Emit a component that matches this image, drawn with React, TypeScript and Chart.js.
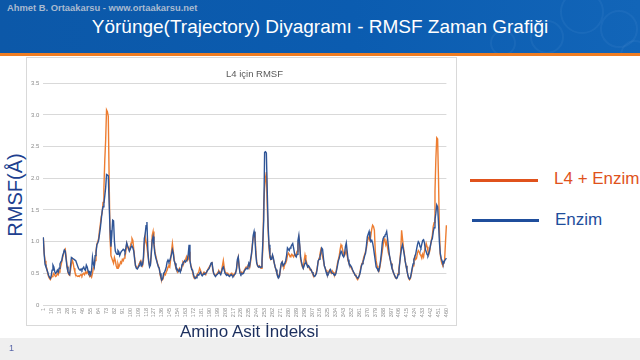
import React, { useEffect, useRef } from "react";
import { Chart, registerables } from "chart.js";

Chart.register(...registerables);

// Residue indices (amino acid index) 1..460
const residues: string[] = Array.from({ length: 460 }, (_, i) => String(i + 1));

// Tick labels shown on the x axis
const xTickLabels = [
  1, 10, 19, 28, 37, 46, 55, 64, 73, 82, 91, 100, 109, 118, 127, 136, 145, 154, 163, 172,
  181, 190, 199, 208, 217, 226, 235, 244, 253, 262, 271, 280, 289, 298, 307, 316, 325, 334,
  343, 352, 361, 370, 379, 388, 397, 406, 415, 424, 433, 442, 451, 460,
];

const yTicks = [0, 0.5, 1, 1.5, 2, 2.5, 3, 3.5];

// RMSF "L4 + Enzim"
const rmsfL4Enzim = [
  1.06, 0.82, 0.70, 0.62, 0.58, 0.50, 0.45, 0.42, 0.40, 0.43,
  0.45, 0.47, 0.50, 0.47, 0.45, 0.46, 0.50, 0.48, 0.52, 0.55,
  0.62, 0.68, 0.75, 0.80, 0.86, 0.88, 0.76, 0.62, 0.52, 0.48,
  0.47, 0.55, 0.64, 0.71, 0.66, 0.58, 0.52, 0.48, 0.46, 0.45,
  0.46, 0.45, 0.47, 0.48, 0.46, 0.49, 0.50, 0.48, 0.52, 0.50,
  0.53, 0.50, 0.48, 0.45, 0.47, 0.44, 0.50, 0.58, 0.60, 0.70,
  0.85, 0.96, 1.00, 1.05, 1.18, 1.28, 1.40, 1.45, 1.62, 1.84,
  2.28, 2.60, 3.08, 3.05, 2.98, 1.97, 1.05, 0.78, 0.74, 0.70,
  0.66, 0.75, 0.70, 0.62, 0.58, 0.65, 0.60, 0.63, 0.68, 0.66,
  0.72, 0.70, 0.74, 0.75, 0.85, 0.97, 0.92, 0.88, 0.86, 0.92,
  0.98, 1.05, 1.02, 0.88, 0.75, 0.62, 0.60, 0.58, 0.60, 0.65,
  0.68, 0.70, 0.65, 0.62, 0.70, 0.95, 1.08, 1.00, 0.92, 0.80,
  0.70, 0.62, 0.65, 0.80, 1.10, 1.16, 1.00, 0.85, 0.78, 0.72,
  0.66, 0.62, 0.58, 0.48, 0.42, 0.39, 0.40, 0.45, 0.50, 0.48,
  0.52, 0.55, 0.60, 0.62, 0.60, 0.72, 0.85, 0.97, 0.85, 0.72,
  0.65, 0.58, 0.55, 0.52, 0.55, 0.58, 0.54, 0.55, 0.62, 0.68,
  0.66, 0.70, 0.72, 0.76, 0.70, 0.72, 0.84, 0.72, 0.62, 0.58,
  0.52, 0.45, 0.42, 0.44, 0.45, 0.48, 0.50, 0.52, 0.58, 0.55,
  0.50, 0.48, 0.50, 0.52, 0.50, 0.48, 0.52, 0.55, 0.58, 0.60,
  0.62, 0.65, 0.68, 0.55, 0.50, 0.48, 0.46, 0.48, 0.50, 0.52,
  0.54, 0.52, 0.50, 0.55, 0.62, 0.70, 0.60, 0.52, 0.50, 0.48,
  0.50, 0.48, 0.46, 0.48, 0.50, 0.47, 0.48, 0.46, 0.50, 0.52,
  0.55, 0.68, 0.75, 0.62, 0.52, 0.50, 0.52, 0.50, 0.52, 0.55,
  0.58, 0.60, 0.58, 0.62, 0.65, 0.60, 0.68, 0.79, 0.95, 1.05,
  1.13, 1.15, 0.85, 0.68, 0.62, 0.60, 0.62, 0.60, 0.58, 0.62,
  0.90, 1.60, 1.85, 2.00, 2.10, 1.55, 1.18, 0.90, 0.75, 0.72,
  0.75, 0.78, 0.72, 0.66, 0.60, 0.55, 0.50, 0.48, 0.44, 0.47,
  0.55, 0.65, 0.68, 0.62, 0.60, 0.64, 0.66, 0.70, 0.78, 0.82,
  0.80, 0.76, 0.78, 0.80, 0.78, 0.76, 0.80, 0.78, 0.80, 0.85,
  0.95, 1.05, 0.92, 0.72, 0.65, 0.60, 0.58, 0.70, 0.79, 0.72,
  0.66, 0.62, 0.60, 0.58, 0.55, 0.56, 0.52, 0.48, 0.45, 0.46,
  0.48, 0.52, 0.60, 0.68, 0.74, 0.80, 0.87, 0.82, 0.76, 0.70,
  0.62, 0.58, 0.55, 0.50, 0.48, 0.52, 0.55, 0.52, 0.50, 0.54,
  0.52, 0.48, 0.47, 0.50, 0.58, 0.66, 0.72, 0.78, 0.88, 0.95,
  0.92, 0.86, 0.80, 0.78, 0.82, 0.86, 0.78, 0.70, 0.66, 0.62,
  0.60, 0.58, 0.55, 0.52, 0.50, 0.48, 0.45, 0.42, 0.40, 0.43,
  0.48, 0.55, 0.62, 0.66, 0.70, 0.76, 0.80, 0.85, 0.90, 1.00,
  1.05, 1.08, 1.00, 1.10, 1.20, 1.26, 1.24, 1.18, 0.85, 0.70,
  0.62, 0.55, 0.53, 0.58, 0.66, 0.75, 0.85, 0.95, 1.05, 1.02,
  0.95, 1.00, 0.90, 0.82, 0.78, 0.72, 0.66, 0.60, 0.55, 0.50,
  0.46, 0.43, 0.42, 0.44, 0.50, 0.58, 0.70, 0.85, 1.18, 1.05,
  0.92, 0.82, 0.70, 0.62, 0.55, 0.48, 0.42, 0.40, 0.42, 0.48,
  0.56, 0.62, 0.70, 0.76, 0.72, 0.74, 0.82, 0.86, 0.84, 0.80,
  0.78, 0.74, 0.80, 0.76, 0.85, 0.90, 0.97, 0.92, 0.85, 0.80,
  0.85, 0.95, 1.03, 1.10, 1.24, 1.30, 1.79, 2.30, 2.64, 2.62,
  2.00, 1.18, 0.80, 0.70, 0.65, 0.63, 0.66, 0.72, 1.00, 1.26,
];

// RMSF "Enzim"
const rmsfEnzim = [
  1.07, 0.80, 0.64, 0.60, 0.56, 0.52, 0.47, 0.44, 0.42, 0.46,
  0.55, 0.63, 0.60, 0.53, 0.50, 0.52, 0.55, 0.52, 0.58, 0.65,
  0.68, 0.70, 0.78, 0.82, 0.87, 0.85, 0.72, 0.60, 0.53, 0.50,
  0.48, 0.62, 0.75, 0.74, 0.73, 0.72, 0.71, 0.70, 0.66, 0.62,
  0.58, 0.56, 0.55, 0.57, 0.55, 0.58, 0.60, 0.56, 0.55, 0.63,
  0.60, 0.54, 0.50, 0.52, 0.48, 0.55, 0.75, 0.65, 0.60, 0.78,
  0.82, 0.95, 0.98, 1.02, 1.12, 1.22, 1.35, 1.48, 1.55, 1.60,
  1.72, 1.85, 2.06, 2.05, 2.04, 1.60, 1.18, 0.92, 1.10, 1.34,
  1.33, 1.00, 0.85, 0.82, 0.80, 0.86, 0.84, 0.78, 0.82, 0.85,
  0.86, 0.88, 0.87, 0.84, 0.90, 0.98, 0.93, 0.90, 0.85, 0.88,
  0.92, 0.93, 0.90, 0.85, 0.72, 0.62, 0.58, 0.57, 0.59, 0.62,
  0.66, 0.68, 0.62, 0.64, 0.75, 1.05, 1.12, 1.25, 1.31, 0.88,
  0.68, 0.60, 0.63, 0.82, 1.02, 1.08, 0.95, 0.82, 0.75, 0.70,
  0.65, 0.60, 0.58, 0.50, 0.44, 0.40, 0.42, 0.50, 0.52, 0.55,
  0.60, 0.68, 0.71, 0.68, 0.70, 0.75, 0.80, 0.87, 0.82, 0.70,
  0.66, 0.60, 0.58, 0.55, 0.53, 0.56, 0.52, 0.56, 0.64, 0.66,
  0.68, 0.70, 0.68, 0.70, 0.72, 0.80, 0.95, 0.70, 0.62, 0.56,
  0.55, 0.48, 0.44, 0.42, 0.43, 0.46, 0.48, 0.47, 0.50, 0.52,
  0.48, 0.46, 0.48, 0.50, 0.49, 0.50, 0.52, 0.55, 0.56, 0.58,
  0.62, 0.66, 0.68, 0.58, 0.50, 0.47, 0.45, 0.47, 0.48, 0.50,
  0.52, 0.50, 0.48, 0.52, 0.58, 0.60, 0.55, 0.50, 0.48, 0.47,
  0.48, 0.46, 0.45, 0.47, 0.48, 0.46, 0.45, 0.47, 0.48, 0.50,
  0.58, 0.72, 0.76, 0.60, 0.50, 0.48, 0.50, 0.49, 0.50, 0.54,
  0.56, 0.58, 0.57, 0.60, 0.66, 0.62, 0.72, 0.80, 0.92, 1.10,
  1.16, 1.05, 0.80, 0.66, 0.62, 0.60, 0.61, 0.59, 0.60, 0.70,
  1.00, 1.34, 2.41, 2.42, 2.40, 1.80, 1.25, 0.95, 0.80, 0.72,
  0.72, 0.79, 0.74, 0.66, 0.60, 0.56, 0.50, 0.46, 0.43, 0.46,
  0.58, 0.66, 0.68, 0.62, 0.62, 0.66, 0.70, 0.78, 0.90, 0.88,
  0.86, 0.90, 0.92, 0.95, 0.97, 0.90, 0.82, 0.78, 0.76, 0.80,
  1.02, 1.10, 0.95, 0.75, 0.68, 0.62, 0.58, 0.62, 0.66, 0.68,
  0.64, 0.60, 0.62, 0.60, 0.57, 0.55, 0.52, 0.50, 0.46, 0.45,
  0.47, 0.50, 0.58, 0.70, 0.72, 0.76, 0.82, 0.90, 0.88, 0.74,
  0.62, 0.58, 0.52, 0.48, 0.47, 0.50, 0.54, 0.56, 0.52, 0.50,
  0.50, 0.48, 0.47, 0.49, 0.55, 0.62, 0.70, 0.74, 0.80, 0.85,
  0.82, 0.78, 0.76, 0.80, 0.92, 0.98, 0.85, 0.72, 0.66, 0.64,
  0.62, 0.60, 0.56, 0.53, 0.50, 0.47, 0.46, 0.44, 0.42, 0.44,
  0.47, 0.52, 0.60, 0.65, 0.68, 0.72, 0.78, 0.82, 0.95, 1.08,
  1.12, 1.16, 1.05, 1.00, 1.02, 0.98, 0.90, 0.80, 0.70, 0.60,
  0.58, 0.55, 0.54, 0.60, 0.70, 0.82, 0.98, 1.05, 1.08, 1.10,
  1.12, 1.16, 1.05, 0.92, 0.80, 0.72, 0.65, 0.58, 0.54, 0.50,
  0.47, 0.44, 0.42, 0.43, 0.48, 0.55, 0.68, 0.80, 0.90, 0.95,
  0.88, 0.80, 0.70, 0.62, 0.55, 0.48, 0.43, 0.41, 0.43, 0.50,
  0.58, 0.65, 0.72, 0.76, 0.80, 0.88, 0.95, 1.00, 0.98, 0.92,
  0.90, 0.96, 1.02, 1.03, 0.98, 0.88, 0.84, 0.80, 0.78, 0.82,
  0.88, 0.95, 1.02, 1.05, 1.15, 1.22, 1.35, 1.45, 1.58, 1.55,
  1.30, 1.00, 0.82, 0.74, 0.70, 0.65, 0.66, 0.70, 0.72, 0.74,
];

const ORANGE = "#ed7d31";
const BLUE = "#2f5597";
const FONT = "'Liberation Sans', Arial, sans-serif";

export default function App() {
  const canvasRef = useRef<HTMLCanvasElement | null>(null);

  useEffect(() => {
    const tickSet = new Set(xTickLabels.map(String));
    const chart = new Chart(canvasRef.current as HTMLCanvasElement, {
      type: "line",
      data: {
        labels: residues,
        datasets: [
          {
            label: "Enzim",
            data: rmsfEnzim,
            borderColor: BLUE,
            backgroundColor: BLUE,
            borderWidth: 1.4,
            pointRadius: 0,
            tension: 0,
          },
          {
            label: "L4 + Enzim",
            data: rmsfL4Enzim,
            borderColor: ORANGE,
            backgroundColor: ORANGE,
            borderWidth: 1.4,
            pointRadius: 0,
            tension: 0,
          },
        ],
      },
      options: {
        animation: false,
        responsive: false,
        maintainAspectRatio: false,
        layout: { padding: { top: 25.3, right: 7.3, bottom: 0, left: 0 } },
        plugins: {
          legend: { display: false },
          title: { display: false },
          tooltip: { enabled: false },
        },
        scales: {
          x: {
            grid: { display: false, drawTicks: false },
            border: { display: false },
            ticks: {
              autoSkip: false,
              maxRotation: 90,
              minRotation: 90,
              padding: 3,
              color: "#8c8c8c",
              font: { size: 5.5, family: FONT },
              callback: (_v: any, i: number) => (tickSet.has(residues[i]) ? residues[i] : ""),
            },
            afterFit: (s: any) => {
              s.height = 20;
            },
          },
          y: {
            min: 0,
            max: 3.5,
            afterBuildTicks: (s: any) => {
              s.ticks = yTicks.map((v) => ({ value: v }));
            },
            grid: { color: "#d9d9d9", drawTicks: false, lineWidth: 1 },
            border: { display: false },
            ticks: {
              padding: 4,
              color: "#8c8c8c",
              font: { size: 6, family: FONT },
            },
            afterFit: (s: any) => {
              s.width = 16.3;
            },
          },
        },
      },
    });
    return () => chart.destroy();
  }, []);

  const abs = (o: React.CSSProperties): React.CSSProperties => ({ position: "absolute", ...o });

  return (
    <div
      style={{
        position: "fixed",
        left: 0,
        top: 0,
        width: 640,
        height: 360,
        overflow: "hidden",
        background: "#ffffff",
        fontFamily: FONT,
      }}
    >
      {/* header */}
      <div
        style={abs({
          left: 0,
          top: 0,
          width: 640,
          height: 53,
          background: "linear-gradient(90deg, #0c58a8 0%, #0b5cb0 55%, #1265b8 100%)",
          overflow: "hidden",
        })}
      >
        {[
          [560, -10, 40],
          [600, 10, 34],
          [530, 20, 30],
          [620, 40, 26],
          [490, 30, 22],
        ].map(([x, y, r], k) => (
          <div
            key={k}
            style={abs({
              left: x,
              top: y,
              width: r,
              height: r,
              borderRadius: "50%",
              border: "2px solid rgba(160,200,240,0.07)",
            })}
          />
        ))}
      </div>
      <div style={abs({ left: 0, top: 53, width: 640, height: 3, background: "#ef7d22" })} />
      <div
        style={abs({
          left: 7,
          top: 2,
          fontSize: 9.4,
          fontWeight: "bold",
          color: "#a9bad0",
          whiteSpace: "nowrap",
        })}
      >
        Ahmet B. Ortaakarsu - www.ortaakarsu.net
      </div>
      <div
        style={abs({
          left: 0,
          top: 16,
          width: 640,
          textAlign: "center",
          fontSize: 19,
          color: "#ffffff",
          whiteSpace: "nowrap",
        })}
      >
        Yörünge(Trajectory) Diyagramı - RMSF Zaman Grafiği
      </div>

      {/* chart frame */}
      <div
        style={abs({
          left: 26,
          top: 57,
          width: 429,
          height: 267,
          border: "1px solid #d9d9d9",
          background: "#ffffff",
        })}
      />
      <canvas
        ref={canvasRef}
        width={429}
        height={267}
        style={abs({ left: 27, top: 58, width: 429, height: 267, display: "block" })}
      />
      <div
        style={abs({
          left: 226,
          top: 68,
          fontSize: 9.5,
          color: "#595959",
          whiteSpace: "nowrap",
        })}
      >
        L4 için RMSF
      </div>

      {/* axis titles */}
      <div
        style={abs({
          left: 15,
          top: 195,
          transform: "translate(-50%, -50%) rotate(-90deg)",
          fontSize: 20,
          color: "#203f8f",
          whiteSpace: "nowrap",
        })}
      >
        RMSF(Å)
      </div>
      <div
        style={abs({
          left: 180,
          top: 322,
          fontSize: 17,
          color: "#1c2f5e",
          whiteSpace: "nowrap",
        })}
      >
        Amino Asit İndeksi
      </div>

      {/* legend */}
      <div style={abs({ left: 470, top: 179, width: 68, height: 3, background: "#e0521c" })} />
      <div
        style={abs({ left: 554, top: 169, fontSize: 17, color: "#e0521c", whiteSpace: "nowrap" })}
      >
        L4 + Enzim
      </div>
      <div style={abs({ left: 472, top: 219, width: 67, height: 3, background: "#1f4e9c" })} />
      <div
        style={abs({ left: 555, top: 210, fontSize: 17, color: "#1f4e9c", whiteSpace: "nowrap" })}
      >
        Enzim
      </div>

      {/* footer */}
      <div style={abs({ left: 0, top: 338, width: 640, height: 22, background: "#efefef" })} />
      <div style={abs({ left: 9, top: 343, fontSize: 9, color: "#5865a8" })}>1</div>
    </div>
  );
}
